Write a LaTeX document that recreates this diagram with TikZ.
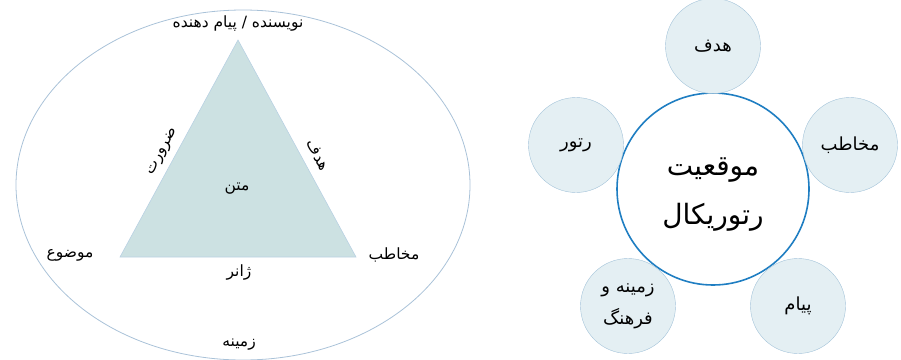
\documentclass[tikz,border=0pt]{standalone}
\usepackage{fontspec}
\newfontfamily\farsi[Script=Arabic]{DejaVu Sans}
\TeXXeTstate=1
\usetikzlibrary{positioning}

\definecolor{ringline}{HTML}{A9C2D8}
\definecolor{trifill}{HTML}{CCE1E2}
\definecolor{triline}{HTML}{B9D1E2}
\definecolor{bubblefill}{HTML}{E4EFF3}
\definecolor{bubbleline}{HTML}{A3C3D9}
\definecolor{hubline}{HTML}{1F7EC2}

\newcommand{\fa}[1]{{\farsi\beginR #1\endR}}

\begin{document}
\begin{tikzpicture}[x=1pt, y=-1pt,
    lbl/.style={font=\fontsize{15.5}{18}\selectfont, inner sep=1pt},
    bubble/.style={circle, draw=bubbleline, fill=bubblefill, minimum size=95pt,
        inner sep=0pt, align=center, font=\fontsize{18}{32}\selectfont},
    hub/.style={circle, draw=hubline, line width=1.6pt, fill=white, minimum size=192pt,
        inner sep=0pt},
    hubtext/.style={align=center, inner sep=0pt, font=\fontsize{28}{49}\selectfont}]

    \useasboundingbox (0,0) rectangle (901,359);

    % --- Key Coordinates ---
    \coordinate (Apex) at (238,40);
    \coordinate (BaseL) at (120,257);
    \coordinate (BaseR) at (356,257);

    % --- 1. Context Ellipse ---
    \draw[ringline, line width=0.8pt] (243,185) ellipse [x radius=227, y radius=175];

    % --- 2. Triangle ---
    \filldraw[fill=trifill, draw=triline, line width=0.6pt] (Apex) -- (BaseL) -- (BaseR) -- cycle;

    % --- 3. Corner and Edge Labels ---
    \node[lbl] (writer) at (238,24) {\fa{نویسنده / پیام دهنده}};
    \node[lbl] (text) at (237,189) {\fa{متن}};
    \node[lbl] (topic) at (70,255) {\fa{موضوع}};
    \node[lbl] (reader) at (394,255) {\fa{مخاطب}};
    \node[lbl] (genre) at (239,272) {\fa{ژانر}};
    \node[lbl] (context) at (239,345) {\fa{زمینه}};
    \node[lbl, rotate=61.5] (need) at (163,152) {\fa{ضرورت}};
    \node[lbl, rotate=-61.5] (aim) at (318,155) {\fa{هدف}};

    % --- 4. Rhetorical Situation Hub ---
    \node[hub] (situation) at (713,189) {};
    \node[hubtext] (situationtext) at ([yshift=-6pt]situation.center) {\fa{موقعیت}\\\fa{رتوریکال}};

    % --- 5. Surrounding Bubbles ---
    \node[bubble] (goal) at (713,46) {\fa{هدف}};
    \node[bubble] (audience) at (850,145) {\fa{مخاطب}};
    \node[bubble] (rhetor) at (576,145) {\fa{رتور}};
    \node[bubble] (culture) at (628,306) {\fa{زمینه و}\\\fa{فرهنگ}};
    \node[bubble] (message) at (798,306) {\fa{پیام}};

\end{tikzpicture}
\end{document}
